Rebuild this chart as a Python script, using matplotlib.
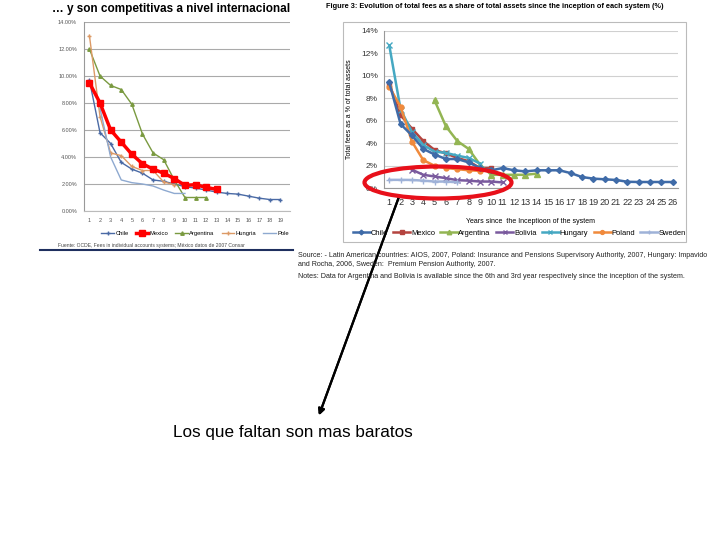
import matplotlib
matplotlib.use("Agg")
import matplotlib.pyplot as plt
from matplotlib.patches import Ellipse, Rectangle
from matplotlib.lines import Line2D

plt.rcParams['font.family'] = ['Liberation Sans', 'DejaVu Sans']

# ---- left chart data (fees, %) ----
left_chile = [9.7, 5.8, 5.0, 3.6, 3.1, 2.8, 2.3, 2.2, 2.0, 1.8, 1.7, 1.55, 1.4, 1.3, 1.25, 1.1, 0.95, 0.85, 0.85]
left_mexico = [9.5, 8.0, 6.0, 5.1, 4.2, 3.5, 3.1, 2.8, 2.4, 1.9, 1.95, 1.75, 1.6]
left_argentina = [12.0, 10.0, 9.3, 9.0, 7.9, 5.7, 4.3, 3.8, 2.3, 1.0, 1.0, 1.0]
left_hungria = [13.0, 7.0, 4.3, 4.1, 3.3, 3.0, 3.0, 2.15, 1.95]
left_pole_years = [2, 3, 4, 5, 6, 7, 8, 9, 10]
left_pole = [7.6, 4.0, 2.3, 2.1, 2.0, 1.85, 1.55, 1.3, 1.3]
left_yticks = [0, 2, 4, 6, 8, 10, 12, 14]
left_ylabels = ['0.00%', '2.00%', '4.00%', '6.00%', '8.00%', '10.00%', '12.00%', '14.00%']

# ---- right chart data (fees, %) ----
years_chile = list(range(1, 27))
right_chile = [9.4, 5.7, 4.7, 3.5, 3.0, 2.6, 2.6, 2.3, 1.8, 1.6, 1.8, 1.6, 1.5, 1.6, 1.6, 1.6,
               1.35, 1.0, 0.86, 0.8, 0.74, 0.58, 0.56, 0.56, 0.56, 0.56]
years_mexico = list(range(1, 11))
right_mexico = [9.3, 6.5, 5.3, 4.2, 3.4, 3.1, 2.7, 2.4, 1.8, 1.8]
years_argentina = list(range(5, 15))
right_argentina = [7.8, 5.5, 4.2, 3.5, 2.1, 1.2, 1.2, 1.2, 1.2, 1.3]
years_bolivia = list(range(3, 12))
right_bolivia = [1.65, 1.2, 1.05, 0.9, 0.72, 0.68, 0.6, 0.6, 0.52]
years_hungary = list(range(1, 10))
right_hungary = [12.7, 7.0, 5.0, 3.85, 3.25, 3.15, 2.9, 2.7, 2.2]
years_poland = list(range(1, 10))
right_poland = [9.0, 7.25, 4.15, 2.5, 2.0, 1.8, 1.7, 1.6, 1.55]
years_sweden = list(range(1, 8))
right_sweden = [0.75, 0.75, 0.74, 0.68, 0.6, 0.6, 0.53]
right_yticks = [0, 2, 4, 6, 8, 10, 12, 14]
right_ylabels = ['0%', '2%', '4%', '6%', '8%', '10%', '12%', '14%']

W, H = 720, 540


def box(x0, y0, x1, y1):
    # pixel box (top-left origin) -> figure fraction rect
    return [x0 / W, 1 - y1 / H, (x1 - x0) / W, (y1 - y0) / H]


fig = plt.figure(figsize=(7.2, 5.4), dpi=100)

# ---------------- left chart ----------------
fig.text(52 / W, 1 - 9 / H, '\u2026 y son competitivas a nivel internacional',
         fontsize=8.5, fontweight='bold', va='center', ha='left')

ax1 = fig.add_axes(box(84.1, 22, 290, 211))
x = lambda v: list(range(1, len(v) + 1))
ax1.plot(x(left_chile), left_chile, color='#4a6aa5', lw=1, marker='+', ms=3, label='Chile')
ax1.plot(x(left_mexico), left_mexico, color='#ff0000', lw=2.5, marker='s', ms=5, label='Mexico', zorder=4)
ax1.plot(x(left_argentina), left_argentina, color='#7a9a40', lw=1, marker='^', ms=2.5, label='Argentina')
ax1.plot(x(left_hungria), left_hungria, color='#dc9a66', lw=1, marker='+', ms=3, label='Hungria')
ax1.plot(left_pole_years, left_pole, color='#8ea9d0', lw=1, label='Pole')
ax1.set_xlim(0.5, 19.9)
ax1.set_ylim(0, 14)
ax1.set_yticks(left_yticks)
ax1.set_yticklabels(left_ylabels)
ax1.set_xticks(range(1, 20))
ax1.tick_params(labelsize=4, colors='#555555', length=0, pad=5)
ax1.grid(axis='y', color='#aaaaaa', lw=0.8)
for s in ['top', 'right']:
    ax1.spines[s].set_visible(False)
ax1.spines['left'].set_color('#999999')
ax1.spines['bottom'].set_color('#bbbbbb')
ax1.legend(loc='upper right', bbox_to_anchor=(1.02, -0.08), ncol=5, fontsize=4.2,
           frameon=False, handlelength=2.2, columnspacing=1.2, handletextpad=0.2)

fig.text(58 / W, 1 - 245 / H,
         'Fuente: OCDE, Fees in individual accounts systems; M\u00e9xico datos de 2007 Consar',
         fontsize=3.6, color='#444444', va='center')
fig.add_artist(Line2D([40 / W, 293 / W], [1 - 250 / H, 1 - 250 / H], color='#1f2f5f', lw=1.5))

# ---------------- right chart ----------------
fig.text(326 / W, 1 - 6 / H,
         'Figure 3: Evolution of total fees as a share of total assets since the inception of each system (%)',
         fontsize=5.3, fontweight='bold', va='center', ha='left')
fig.add_artist(Rectangle((343 / W, 1 - 242 / H), (686 - 343) / W, (242 - 22) / H,
                         transform=fig.transFigure, fill=False, ec='#bbbbbb', lw=0.8))

ax2 = fig.add_axes(box(383.6, 30.7, 678.4, 188.3))
ax2.plot(years_chile, right_chile, color='#3f6ba8', lw=1.8, marker='D', ms=3, label='Chile', zorder=3)
ax2.plot(years_mexico, right_mexico, color='#b4443f', lw=1.8, marker='s', ms=3.5, label='Mexico')
ax2.plot(years_argentina, right_argentina, color='#93b553', lw=1.8, marker='^', ms=4, label='Argentina')
ax2.plot(years_bolivia, right_bolivia, color='#7a5a9e', lw=1.8, marker='x', ms=4, label='Bolivia')
ax2.plot(years_hungary, right_hungary, color='#45a8c2', lw=1.8, marker='x', ms=4, label='Hungary')
ax2.plot(years_poland, right_poland, color='#f08a3c', lw=1.8, marker='o', ms=3.5, label='Poland')
ax2.plot(years_sweden, right_sweden, color='#9fb2d8', lw=1.8, marker='+', ms=4, label='Sweden')
ax2.set_xlim(0.5, 26.5)
ax2.set_ylim(0, 14)
ax2.set_yticks(right_yticks)
ax2.set_yticklabels(right_ylabels)
ax2.set_xticks(range(1, 27))
ax2.tick_params(axis='y', labelsize=6, colors='#333333', length=0, pad=4)
ax2.tick_params(axis='x', labelsize=6.6, colors='#333333', length=0, pad=7)
ax2.grid(axis='y', color='#d0d0d0', lw=0.8)
for s in ['top', 'right']:
    ax2.spines[s].set_visible(False)
ax2.spines['left'].set_color('#999999')
ax2.spines['bottom'].set_color('#999999')
ax2.set_xlabel('Years since  the Inceptioon of the system', fontsize=5, labelpad=8)
ax2.set_ylabel('Total fees as a % of total assets', fontsize=5, labelpad=6)
ax2.legend(loc='center', bbox_to_anchor=(0.46, 1 - (233 - 30.7) / (188.3 - 30.7)), ncol=7,
           fontsize=5.4, frameon=False, handlelength=2.3, columnspacing=0.7, handletextpad=0.1,
           markerscale=0.8)

src = ('Source: - Latin American countries: AIOS, 2007, Poland: Insurance and Pensions Supervisory '
       'Authority, 2007, Hungary: Impavido\nand Rocha, 2006, Sweden:  Premium Pension Authority, 2007.')
fig.text(298 / W, 1 - 260 / H, src, fontsize=5.1, color='#222222', va='center', linespacing=1.5)
fig.text(298 / W, 1 - 277 / H,
         'Notes: Data for Argentina and Bolivia is available since the 6th and 3rd year respectively '
         'since the inception of the system.', fontsize=5.1, color='#222222', va='center')

# ---------------- annotation ----------------
fig.add_artist(Ellipse((438 / W, 1 - 182.5 / H), 147 / W, 32 / H, transform=fig.transFigure,
                       fill=False, ec='#e8101a', lw=3, zorder=10))
fig.add_artist(plt.annotate('', xy=(318, H - 418), xytext=(400, H - 194),
                            xycoords='figure pixels', textcoords='figure pixels',
                            arrowprops=dict(arrowstyle='-|>', color='black', lw=1.6,
                                            mutation_scale=9)))
fig.text(173 / W, 1 - 432 / H, 'Los que faltan son mas baratos', fontsize=12.3,
         va='center', ha='left')

fig.savefig('out.png', dpi=100)
